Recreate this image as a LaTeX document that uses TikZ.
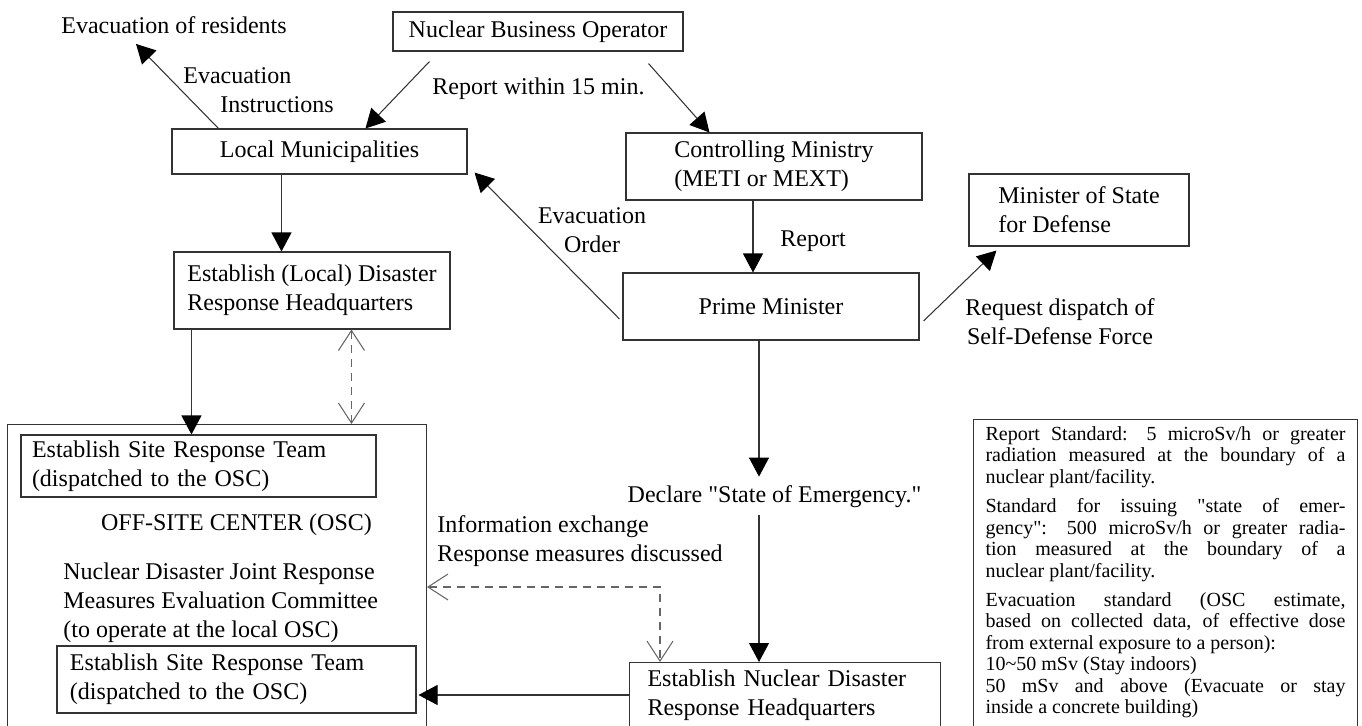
\documentclass[tikz,border=0pt]{standalone}
\usepackage{fontspec}
\setmainfont{Liberation Serif}
\usepackage{tikz}
\usetikzlibrary{calc,arrows.meta}
\newcommand{\linecolor}{black!80}
\newcommand{\dashcolor}{black!60}
\newcommand{\thickness}{0.6pt}
\newcommand{\mainsize}{\fontsize{13.66pt}{16.5pt}\selectfont}
\newcommand{\smallsize}{\fontsize{11.38pt}{12.2pt}\selectfont}
\tikzset{
  box/.style={draw=\linecolor, line width=\thickness, inner sep=0pt},
  lbl/.style={inner sep=0pt},
  arr/.style={draw=\linecolor, line width=\thickness, -{Triangle[length=0.38cm, width=0.4cm, color=black]}},
  darr/.style={draw=\dashcolor, line width=\thickness, dash pattern=on 0.16cm off 0.12cm,
    {Straight Barb[length=0.4cm, width=0.52cm]}-{Straight Barb[length=0.4cm, width=0.52cm]}}
}

\begin{document}
\begin{tikzpicture}[font=\mainsize]
\useasboundingbox (0,0) rectangle (27.24,-14.52);
\clip (0,0) rectangle (27.24,-14.52);
%boxes
\node[box] (2) at (10.76, -0.63) [minimum width=5.8cm, minimum height=0.78cm] {Nuclear Business Operator};
\node[box] (3) at (6.39, -3.03) [minimum width=5.9cm, minimum height=0.9cm] {Local Municipalities};
\node[box] (4) at (15.48, -3.33) [minimum width=5.92cm, minimum height=1.34cm, align=left] {Controlling Ministry\\(METI or MEXT)};
\node[box] (5) at (21.58, -4.2) [minimum width=4.4cm, minimum height=1.44cm, align=left] {Minister of State\\for Defense};
\node[box] (6) at (6.24, -5.81) [minimum width=5.52cm, minimum height=1.54cm, align=left] {Establish (Local) Disaster\\Response Headquarters};
\node[box] (7) at (15.42, -6.13) [minimum width=5.92cm, minimum height=1.34cm] {Prime Minister};
%off-site center
\node[box] (8) at (0.14, -8.48) [anchor=north west, minimum width=8.38cm, minimum height=7.2cm] {};
\node[box] (9) at (3.97, -9.32) [text width=6.66cm, inner xsep=0.22cm, minimum height=1.24cm, align=left] {Establish Site Response Team\\(dispatched to the OSC)};
\node[lbl] (10) at (4.73, -10.5) {OFF-SITE CENTER (OSC)};
\node[lbl] (11) at (1.26, -12.06) [anchor=west, align=left] {Nuclear Disaster Joint Response\\Measures Evaluation Committee\\(to operate at the local OSC)};
\node[box] (12) at (4.73, -13.59) [text width=6.66cm, inner xsep=0.26cm, minimum height=1.34cm, align=left] {Establish Site Response Team\\(dispatched to the OSC)};
\node[box] (13) at (12.58, -13.24) [anchor=north west, text width=5.5cm, inner xsep=0.36cm, inner ysep=0.14cm, text depth=2cm, align=left] {Establish Nuclear Disaster\\Response Headquarters};
%standards
\node[box] (14) at (19.46, -8.38) [anchor=north west, text width=7.2cm, inner xsep=0.24cm, inner ysep=0.14cm, text depth=7cm, align=justify, font=\smallsize]
{Report Standard: 5 microSv/h or greater\linebreak radiation measured at the boundary of a\linebreak nuclear plant/facility.\par\vspace{0.16cm}
Standard for issuing \textquotedbl state of emer-\linebreak gency\textquotedbl: 500 microSv/h or greater radia-\linebreak tion measured at the boundary of a\linebreak nuclear plant/facility.\par\vspace{0.16cm}
Evacuation standard (OSC estimate,\linebreak based on collected data, of effective dose\linebreak from external exposure to a person):\newline 10\textasciitilde 50 mSv (Stay indoors)\newline 50 mSv and above (Evacuate or stay\linebreak inside a concrete building)};
%labels
\node[lbl] (1) at (3.48, -0.5) {Evacuation of residents};
\node[lbl] (15) at (15.49, -9.94) {Declare \textquotedbl State of Emergency.\textquotedbl};
\node[lbl] (16) at (10.77, -1.78) {Report within 15 min.};
\node[lbl] (17) at (3.66, -1.8) [anchor=west, align=left] {Evacuation\\\hspace*{0.74cm}Instructions};
\node[lbl] (18) at (11.84, -4.6) [align=center] {Evacuation\\Order};
\node[lbl] (19) at (16.26, -4.82) {Report};
\node[lbl] (20) at (21.2, -6.44) [align=center] {Request dispatch of\\Self-Defense Force};
\node[lbl] (21) at (8.74, -10.83) [anchor=west, align=left] {Information exchange\\Response measures discussed};
%arrow columns
\coordinate (c1) at ($(3.south west)+(2.2,0)$);
\coordinate (c2) at ($(6.south west)+(0.36,0)$);
\coordinate (c3) at ($(6.south west)+(3.56,0)$);
\coordinate (c4) at ($(4.south)+(-0.42,0)$);
\coordinate (c5) at ($(7.south)+(-0.24,0)$);
\coordinate (c6) at ($(12.east)+(0.04,-0.31)$);
\coordinate (c7) at ($(13.north west)+(0.62,1.5)$);
%arrows
\draw[arr] ($(2.south west)+(0.74,-0.2)$) -- ($(3.north west)+(3.88,0)$);
\draw[arr] ($(2.south east)+(-0.7,-0.24)$) -- ($(4.north west)+(1.68,0)$);
\draw[arr] ($(3.north west)+(0.94,0)$) -- ($(1.south)+(-0.76,-0.2)$);
\draw[arr] (c1) -- (c1 |- 6.north);
\draw[arr] (c2) -- (c2 |- 9.north);
\draw[darr] (c3) -- (c3 |- 8.north);
\draw[arr] ($(7.west)+(-0.06,-0.25)$) -- ($(3.south east)+(0.14,0.04)$);
\draw[arr] (c4) -- (c4 |- 7.north);
\draw[arr] ($(7.east)+(0.08,-0.29)$) -- ($(5.south west)+(0.56,-0.08)$);
\draw[arr, shorten >=0.18cm] (c5) -- (c5 |- 15.north);
\draw[arr, shorten <=0.14cm] (c5 |- 15.south) -- (c5 |- 13.north);
\draw[arr] (13.west |- c6) -- (c6);
\draw[darr] (8.east |- c7) -- (c7) -- (c7 |- 13.north);
\end{tikzpicture}
\end{document}
